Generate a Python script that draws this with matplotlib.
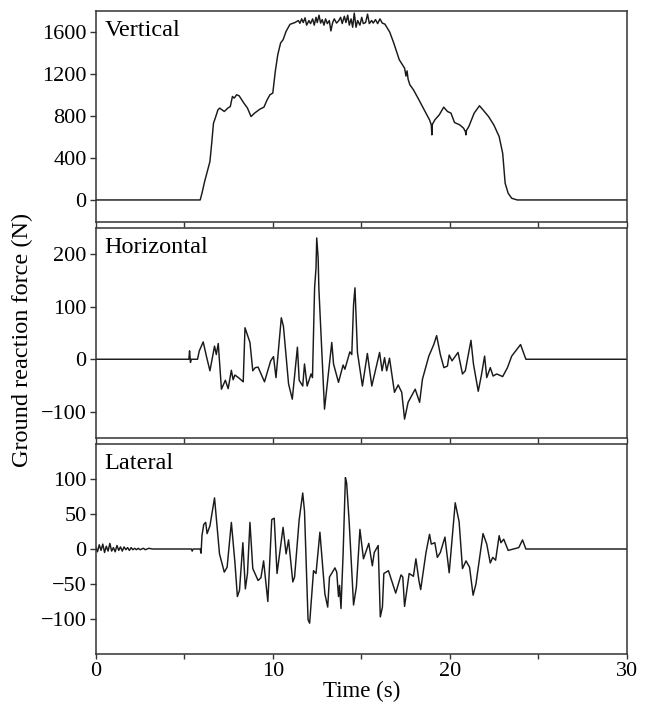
import numpy as np
import matplotlib
matplotlib.use("Agg")
import matplotlib.pyplot as plt

plt.rcParams['font.family'] = ['Liberation Serif', 'DejaVu Serif']
plt.rcParams['font.size'] = 16
plt.rcParams['axes.unicode_minus'] = True

# ---------------- data ----------------
vert_t = [0, 5.9, 6.0, 6.15, 6.45, 6.55, 6.65, 6.75, 6.9, 7.0, 7.26, 7.46, 7.6, 7.72,
          7.82, 7.96, 8.1, 8.37, 8.57, 8.77, 8.97, 9.27, 9.5, 9.68, 9.84, 10.0, 10.14,
          10.28, 10.44, 10.58, 10.75,
          10.97, 11.25, 11.44, 11.53, 11.63, 11.72, 11.82, 11.91, 12.04, 12.13, 12.25,
          12.34, 12.44, 12.51, 12.61, 12.7, 12.79, 12.89, 12.98, 13.08, 13.19, 13.28,
          13.38, 13.47, 13.6, 13.73, 13.83, 13.92, 14.04, 14.13, 14.23, 14.32, 14.42,
          14.51, 14.6, 14.7, 14.79, 14.92, 15.02, 15.11, 15.24, 15.35, 15.45, 15.58,
          15.67, 15.8, 15.92, 16.05, 16.18, 16.33, 16.6,
          16.83, 17.14, 17.44, 17.52, 17.58, 17.64, 17.74, 17.94, 18.25, 18.55, 18.85,
          18.95, 18.98, 19.01, 19.15, 19.4, 19.65, 19.86, 20.06, 20.26, 20.56, 20.77,
          20.88, 20.9, 20.93, 21.07, 21.37, 21.67, 21.87, 22.18, 22.48, 22.78, 22.98,
          23.12, 23.29, 23.49, 23.8, 30]
vert_f = [0, 0, 64, 175, 366, 540, 731, 779, 858, 875, 843, 875, 890, 986,
          970, 1002, 992, 922, 875, 795, 827, 865, 884, 954, 1002, 1018, 1224,
          1383, 1495, 1526, 1606,
          1673, 1690, 1709, 1683, 1725, 1690, 1735, 1665, 1709, 1680, 1725,
          1665, 1740, 1690, 1760, 1685, 1718, 1665, 1725, 1680, 1709, 1610,
          1690, 1725, 1685, 1709, 1740, 1680, 1750, 1690, 1760, 1665, 1725,
          1645, 1780, 1645, 1709, 1665, 1740, 1680, 1690, 1770, 1680, 1709,
          1685, 1718, 1680, 1725, 1685, 1675, 1600,
          1495, 1336, 1256, 1180, 1230, 1150, 1097, 1050, 954, 858, 763,
          715, 620, 720, 763, 811, 884, 843, 827, 738, 715, 684,
          650, 620, 660, 700, 827, 897, 858, 795, 715, 604, 445,
          159, 64, 16, 0, 0]

horiz_t = [0, 5.26, 5.3, 5.35, 5.4, 5.75, 5.85, 6.07, 6.25, 6.45, 6.71, 6.81, 6.92, 7.1,
           7.32, 7.48, 7.66, 7.76, 7.86, 8.06, 8.33, 8.43, 8.71, 8.87, 9.01, 9.17,
           9.53, 9.88, 10.04, 10.18, 10.48, 10.6, 10.89, 11.1, 11.39, 11.49, 11.69,
           11.79, 11.94, 12.16, 12.24, 12.36, 12.44, 12.48, 12.56, 12.6, 12.92, 13.33,
           13.43, 13.71, 13.97, 14.07, 14.35, 14.46, 14.56, 14.64, 14.78, 15.06, 15.34,
           15.59, 16.03, 16.17, 16.31, 16.43, 16.59, 16.87, 17.08, 17.28, 17.44, 17.64,
           18.04, 18.29, 18.45, 18.81, 19.09, 19.25, 19.46, 19.66, 19.86, 19.96, 20.12,
           20.46, 20.71, 20.87, 21.19, 21.33, 21.6, 21.77, 21.96, 22.08, 22.28, 22.44,
           22.64, 22.98, 23.25, 23.49, 23.99, 24.29, 30]
horiz_f = [0, 0, 16, -6, 0, 0, 16, 33, 6, -22, 25, 9, 30, -57,
           -40, -56, -21, -39, -30, -35, -43, 60, 32, -22, -16, -15,
           -43, -3, 5, -35, 79, 63, -47, -76, 23, -40, -51,
           -9, -51, -28, -35, 136, 174, 231, 193, 136, -95, 32,
           -9, -44, -11, -19, 14, 9, 104, 136, 13, -51, 11,
           -51, 13, -22, 3, -22, 2, -63, -49, -63, -114, -82,
           -57, -82, -38, 6, 28, 45, 9, -16, -13, 8, -3,
           13, -28, -22, 36, -9, -61, -32, 6, -35, -16, -32,
           -28, -33, -16, 6, 28, 0, 0]

lat_t = [0.0, 0.1, 0.2, 0.3, 0.4, 0.5, 0.6, 0.7, 0.8, 0.9, 1.0, 1.1, 1.2, 1.3,
         1.4, 1.5, 1.6, 1.7, 1.8, 1.9, 2.0, 2.1, 2.2, 2.3, 2.4, 2.5, 2.6, 2.7,
         2.8, 2.9, 3.0, 3.2, 3.4, 3.7,
         5.4, 5.45, 5.5, 5.9, 5.95, 6.0, 6.1, 6.21, 6.29, 6.45, 6.71, 6.99, 7.26,
         7.42, 7.66, 7.8, 7.86, 8.0, 8.12, 8.31, 8.45, 8.57, 8.71, 8.87, 9.17, 9.33,
         9.48, 9.72, 9.94, 10.08, 10.24, 10.58, 10.75, 10.89, 11.13, 11.23, 11.49,
         11.69, 11.79, 11.99, 12.08, 12.3, 12.44, 12.66, 12.94, 13.1, 13.2, 13.51,
         13.61, 13.71, 13.77, 13.85, 13.97, 14.1, 14.17, 14.31, 14.56, 14.72, 14.92,
         15.12, 15.42, 15.62, 15.73, 15.95, 16.07, 16.19, 16.27, 16.53, 16.94, 17.24,
         17.34, 17.44, 17.7, 17.94, 18.08, 18.25, 18.35, 18.65, 18.85, 18.95, 19.15,
         19.29, 19.46, 19.72, 19.96, 20.3, 20.52, 20.71, 20.91, 21.11, 21.31, 21.47,
         21.87, 22.08, 22.28, 22.42, 22.58, 22.78, 22.88, 23.04, 23.29, 23.89, 24.1,
         24.29, 30]
lat_f = [3, -4, 6, -2, 7, -5, 4, -3, 8, -3, 2, -4, 5, -2,
         3, -3, 3, -1, 2, -2, 2, -1, 1, -1, 1, -1, 0, 1,
         -1, 0, 1, 0, 0, 0,
         0, -3, 0, 0, -6, 19, 35, 38, 22, 33, 73, -7, -33,
         -26, 38, -2, -19, -68, -59, 9, -57, -35, 38, -28, -45, -41,
         -17, -75, 42, 44, -35, 31, -7, 13, -47, -40, 42,
         80, 54, -101, -106, -31, -35, 24, -64, -83, -40, -27,
         -33, -68, -52, -85, -7, 102, 94, 40, -80, -54, 28,
         -14, 8, -24, -5, 5, -97, -83, -35, -31, -63, -37,
         -40, -82, -35, -39, -14, -45, -58, -5, 21, 7, 9,
         -12, -5, 17, -34, 66, 39, -28, -17, -26, -66, -50,
         22, 7, -20, -12, -16, 19, 9, 14, -2, 2, 13,
         0, 0]

panel_names = ["Vertical", "Horizontal", "Lateral"]
y_ticks = [[0, 400, 800, 1200, 1600], [-100, 0, 100, 200], [-100, -50, 0, 50, 100]]
y_lims = [(-210, 1800), (-150, 250), (-150, 150)]
x_ticks = [0, 5, 10, 15, 20, 25, 30]
x_ticklabels = ["0", "", "10", "", "20", "", "30"]

series = [(vert_t, vert_f), (horiz_t, horiz_f), (lat_t, lat_f)]

# ---------------- figure ----------------
fig = plt.figure(figsize=(6.5, 7.05), dpi=100)
W, H = 650, 705
left, right = 95.7, 627
panels_px = [(11, 222), (228, 438), (444, 654)]

spine_col = "#333333"
axes = []
for i, (top, bot) in enumerate(panels_px):
    ax = fig.add_axes([left / W, 1 - bot / H, (right - left) / W, (bot - top) / H])
    t, f = series[i]
    ax.plot(t, f, color="#1a1a1a", lw=1.05)
    ax.set_xlim(0, 30)
    ax.set_ylim(*y_lims[i])
    ax.set_yticks(y_ticks[i])
    ax.set_xticks(x_ticks)
    if i == 2:
        ax.set_xticklabels(x_ticklabels)
        ax.set_xlabel("Time (s)", labelpad=0, fontsize=16.5)
    else:
        ax.set_xticklabels([""] * len(x_ticks))
    ax.tick_params(axis='both', direction='out', width=1.0, color=spine_col, pad=2)
    ax.tick_params(axis='y', length=4.5)
    ax.tick_params(axis='x', length=3.5)
    for s in ax.spines.values():
        s.set_color(spine_col)
        s.set_linewidth(1.1)
    ax.text(0.017, 0.955, panel_names[i], transform=ax.transAxes,
            ha='left', va='top', fontsize=17.5)
    axes.append(ax)

fig.text(22 / W, 1 - 340 / H, "Ground reaction force (N)", rotation=90,
         ha='center', va='center', fontsize=17.5)

fig.savefig("out.png", dpi=100)
